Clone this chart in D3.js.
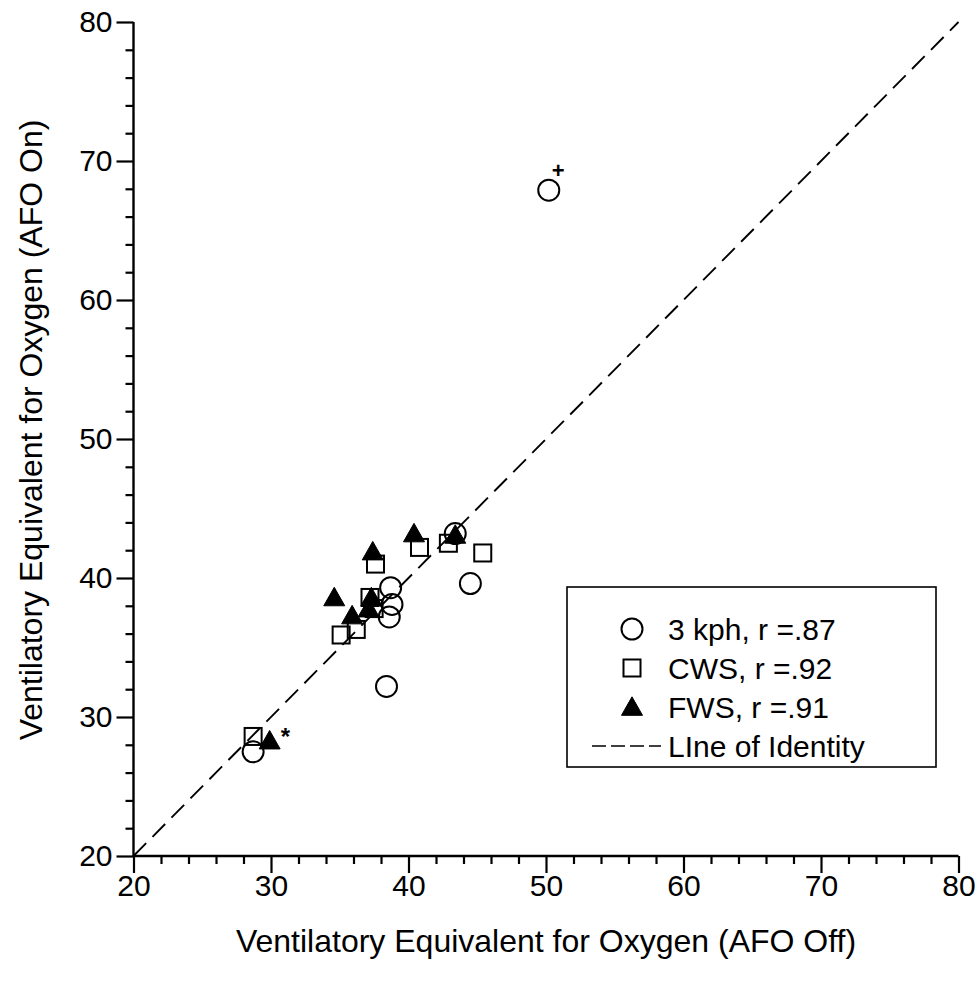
<!DOCTYPE html>
<html>
<head>
<meta charset="utf-8">
<script src="https://cdn.jsdelivr.net/npm/d3@7"></script>
<style>
  html, body { margin: 0; padding: 0; background: #fff; }
  svg { display: block; }
  text { font-family: "Liberation Sans", Arial, sans-serif; fill: #000; }
</style>
</head>
<body>
<div id="chart"></div>
<script>
// ---- Data ----
const kph3 = [
  [28.7, 27.5], [38.4, 32.2], [38.6, 37.2], [38.8, 38.1], [38.7, 39.3],
  [44.5, 39.6], [43.4, 43.2], [50.2, 67.9]
];
const cws = [
  [28.7, 28.6], [35.1, 35.9], [36.2, 36.3], [37.5, 37.8], [37.2, 38.6],
  [37.6, 41.0], [40.8, 42.2], [42.9, 42.5], [45.4, 41.8]
];
const fws = [
  [29.9, 28.3], [34.6, 38.6], [35.9, 37.3], [37.1, 37.8], [37.3, 38.6],
  [37.4, 41.9], [40.4, 43.2], [43.4, 43.1]
];
const identity = [[20, 20], [80, 80]];
const xTicks = [20, 30, 40, 50, 60, 70, 80];
const yTicks = [20, 30, 40, 50, 60, 70, 80];
const minorTicks = [22, 24, 26, 28, 32, 34, 36, 38, 42, 44, 46, 48, 52, 54, 56, 58, 62, 64, 66, 68, 72, 74, 76, 78];
const legendLabels = ["3 kph, r =.87", "CWS, r =.92", "FWS, r =.91", "LIne of Identity"];
const annotations = [
  { x: 29.9, y: 28.3, text: "*" },
  { x: 50.2, y: 67.9, text: "+" }
];
const xTitle = "Ventilatory Equivalent for Oxygen (AFO Off)";
const yTitle = "Ventilatory Equivalent for Oxygen (AFO On)";

// ---- Layout ----
const W = 980, H = 983;
const FONT = "'Liberation Sans', Arial, sans-serif";
const svg = d3.select("#chart").append("svg").attr("width", W).attr("height", H);

const x = d3.scaleLinear().domain([20, 80]).range([133.5, 958.5]);
const y = d3.scaleLinear().domain([20, 80]).range([856, 22]);

const g = svg.append("g");

// Axes
const xAxis = d3.axisBottom(x).tickValues(xTicks).tickSize(17).tickPadding(2).tickFormat(d3.format("d"));
const yAxis = d3.axisLeft(y).tickValues(yTicks).tickSize(17).tickPadding(4).tickFormat(d3.format("d"));
const xMinor = d3.axisBottom(x).tickValues(minorTicks).tickSize(8).tickFormat("");
const yMinor = d3.axisLeft(y).tickValues(minorTicks).tickSize(8).tickFormat("");

function styleAxis(sel) {
  sel.attr("font-size", null).attr("font-family", null);
  sel.select(".domain").attr("stroke", "#000").attr("stroke-width", 2.4);
  sel.selectAll(".tick line").attr("stroke", "#000").attr("stroke-width", 2.2);
  sel.selectAll(".tick text").style("font-size", "30px").style("font-family", FONT).attr("fill", "#000");
}

const gx = g.append("g").attr("transform", `translate(0,${y(20)})`).call(xAxis);
gx.select(".domain").attr("d", `M${x(20)},0H${x(80)}`);
styleAxis(gx);
const gxm = g.append("g").attr("transform", `translate(0,${y(20)})`).call(xMinor);
gxm.select(".domain").remove();
styleAxis(gxm);

const gy = g.append("g").attr("transform", `translate(${x(20)},0)`).call(yAxis);
gy.select(".domain").attr("d", `M0,${y(20)}V${y(80)}`);
styleAxis(gy);
const gym = g.append("g").attr("transform", `translate(${x(20)},0)`).call(yMinor);
gym.select(".domain").remove();
styleAxis(gym);

// Axis titles
svg.append("text")
  .attr("x", 546).attr("y", 952)
  .attr("text-anchor", "middle").style("font-size", "32px").text(xTitle);
svg.append("text")
  .attr("transform", `translate(42,430) rotate(-90)`)
  .attr("text-anchor", "middle").style("font-size", "32px").text(yTitle);

// Marker shapes
const R = 10.5, S = 17, T = 21;
function drawCircle(sel, cx, cy) {
  sel.append("circle").attr("cx", cx).attr("cy", cy).attr("r", R)
    .attr("fill", "none").attr("stroke", "#000").attr("stroke-width", 2);
}
function drawSquare(sel, cx, cy) {
  sel.append("rect").attr("x", cx - S / 2).attr("y", cy - S / 2).attr("width", S).attr("height", S)
    .attr("fill", "none").attr("stroke", "#000").attr("stroke-width", 2);
}
function drawTriangle(sel, cx, cy) {
  const h = T * 0.88;
  sel.append("path")
    .attr("d", `M${cx},${cy - h * 0.55}L${cx + T / 2},${cy + h * 0.45}L${cx - T / 2},${cy + h * 0.45}Z`)
    .attr("fill", "#000").attr("stroke", "#000").attr("stroke-width", 1);
}

// Identity line
const line = d3.line().x(d => x(d[0])).y(d => y(d[1]));
g.append("path").datum(identity).attr("d", line)
  .attr("fill", "none").attr("stroke", "#000").attr("stroke-width", 1.9)
  .attr("stroke-dasharray", "18,9");

const pts = g.append("g");
kph3.forEach(d => drawCircle(pts, x(d[0]), y(d[1])));
cws.forEach(d => drawSquare(pts, x(d[0]), y(d[1])));
fws.forEach(d => drawTriangle(pts, x(d[0]), y(d[1])));

// Annotations
svg.append("text").attr("x", x(annotations[0].x) + 11).attr("y", y(annotations[0].y) + 4)
  .style("font-size", "24px").style("font-weight", "bold").text(annotations[0].text);
svg.append("text").attr("x", x(annotations[1].x) + 3).attr("y", y(annotations[1].y) - 12)
  .style("font-size", "22px").style("font-weight", "bold").text(annotations[1].text);

// Legend
const lg = svg.append("g");
lg.append("rect").attr("x", 567).attr("y", 587).attr("width", 369).attr("height", 180)
  .attr("fill", "#fff").attr("stroke", "#000").attr("stroke-width", 1.6);
const rowY = [629, 668, 707, 746];
const symX = 632;
drawCircle(lg, symX, rowY[0]);
drawSquare(lg, symX, rowY[1]);
drawTriangle(lg, symX, rowY[2]);
lg.append("line").attr("x1", 592).attr("x2", 661).attr("y1", rowY[3]).attr("y2", rowY[3])
  .attr("stroke", "#000").attr("stroke-width", 1.4).attr("stroke-dasharray", "14,5");
legendLabels.forEach((t, i) => {
  lg.append("text").attr("x", 668).attr("y", rowY[i]).attr("dy", "0.36em")
    .style("font-size", "30px").text(t);
});
</script>
</body>
</html>
